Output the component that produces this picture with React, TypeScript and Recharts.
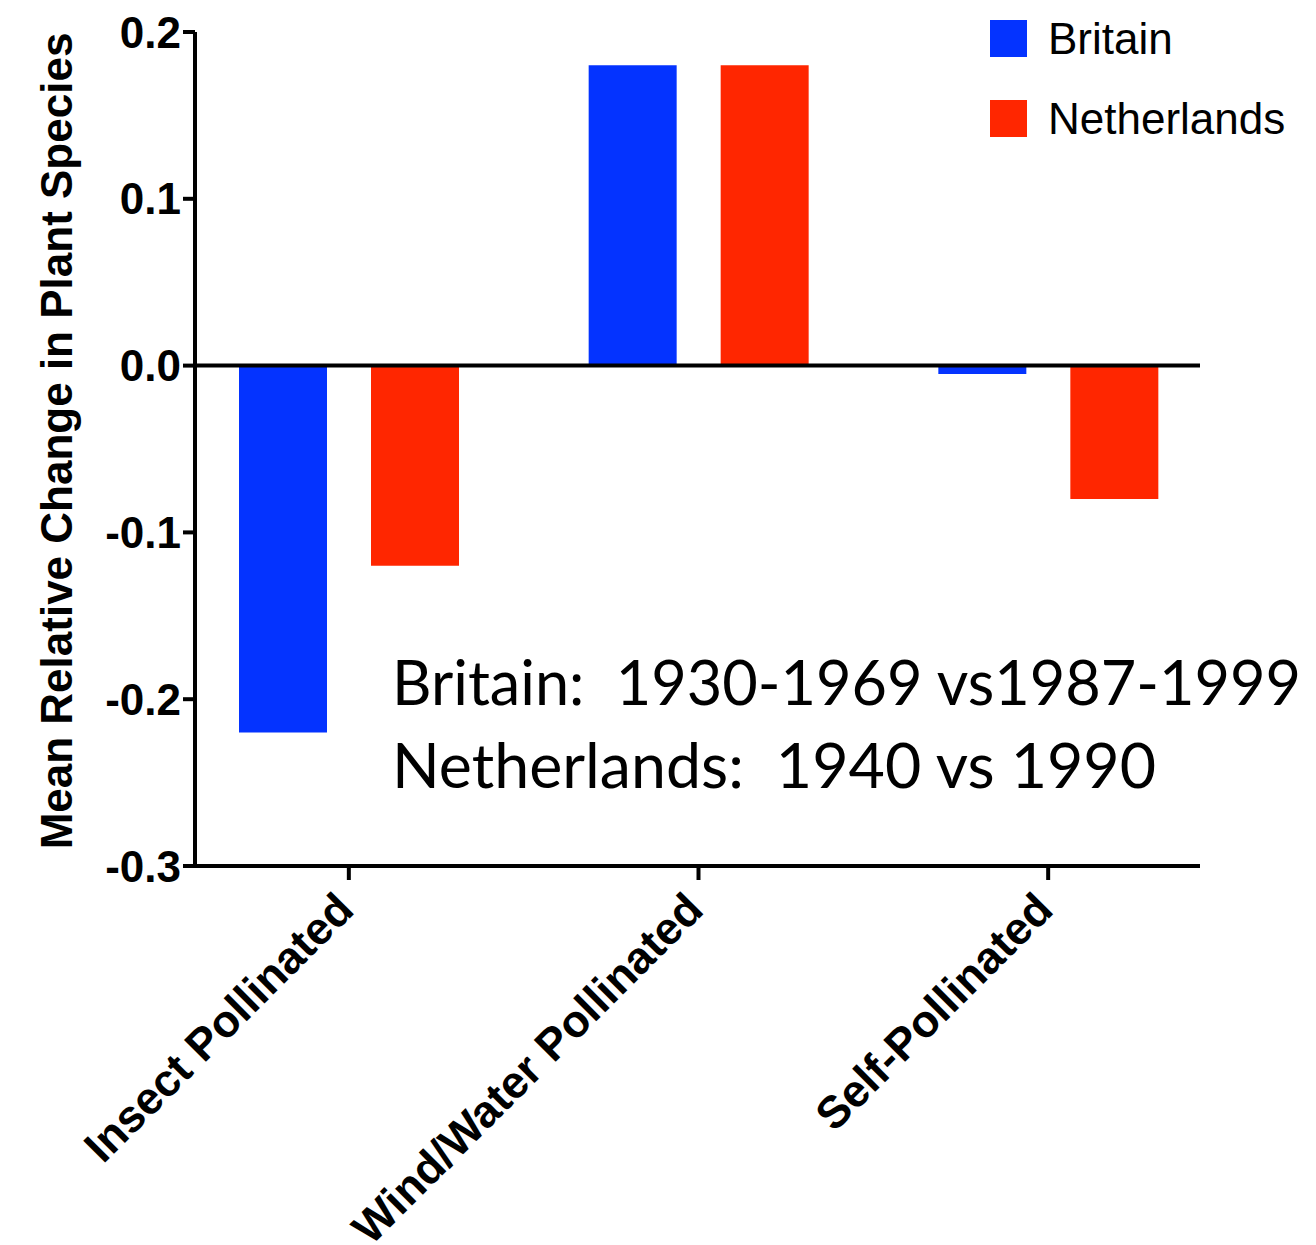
import React from 'react';
import { BarChart, Bar, XAxis, YAxis, ReferenceLine, Legend } from 'recharts';

const categories = ['Insect Pollinated', 'Wind/Water Pollinated', 'Self-Pollinated'];
const britainValues = [-0.22, 0.18, -0.005];
const netherlandsValues = [-0.12, 0.18, -0.08];
const yTicks = [-0.3, -0.2, -0.1, 0, 0.1, 0.2];
const seriesNames = ['Britain', 'Netherlands'];
const seriesColors = ['#0433ff', '#ff2600'];
const yLabel = 'Mean Relative Change in Plant Species';
const annotationLines = ['Britain:  1930-1969 vs1987-1999', 'Netherlands:  1940 vs 1990'];
const annotationWidths = [909, 764];

const data = categories.map((c, i) => ({
  category: c,
  [seriesNames[0]]: britainValues[i],
  [seriesNames[1]]: netherlandsValues[i],
}));

const FONT = '"Liberation Sans", Arial, Helvetica, sans-serif';

const XTick = (props: any) => {
  const { x, y, payload } = props;
  const ax = x + 7;
  const ay = y + 30;
  return (
    <text
      x={ax}
      y={ay}
      transform={`rotate(-45, ${ax}, ${ay})`}
      textAnchor="end"
      fontSize={45}
      fontWeight="bold"
      fontFamily={FONT}
      fill="#000"
    >
      {payload.value}
    </text>
  );
};

const YLabel = (props: any) => {
  const vb = props.viewBox || {};
  const cx = 72;
  const cy = vb.y + vb.height / 2 - 8;
  return (
    <text
      x={cx}
      y={cy}
      transform={`rotate(-90, ${cx}, ${cy})`}
      textAnchor="middle"
      fontSize={44}
      fontWeight="bold"
      fontFamily={FONT}
      fill="#000"
    >
      {yLabel}
    </text>
  );
};

const LegendContent = () => (
  <svg width={326} height={140} style={{ display: 'block', overflow: 'visible' }}>
    {seriesNames.map((name, i) => (
      <g key={name}>
        <rect x={0} y={i * 80} width={37} height={37} fill={seriesColors[i]} />
        <text x={58} y={i * 80 + 34} fontSize={44} fontFamily={FONT} fill="#000">
          {name}
        </text>
      </g>
    ))}
  </svg>
);

export default function App() {
  return (
    <div style={{ position: 'absolute', left: 0, top: 0, width: 1316, height: 1245, background: '#fff' }}>
      <BarChart
        width={1316}
        height={1245}
        data={data}
        margin={{ top: 32, right: 116, bottom: 9, left: 0 }}
        barSize={88}
        barGap={44}
      >
        <XAxis
          dataKey="category"
          height={370}
          interval={0}
          padding={{ left: -21, right: -23 }}
          tickSize={14}
          axisLine={{ stroke: '#000', strokeWidth: 4 }}
          tickLine={{ stroke: '#000', strokeWidth: 4 }}
          tick={<XTick />}
        />
        <YAxis
          width={195}
          domain={[-0.3, 0.2]}
          ticks={yTicks}
          interval={0}
          tickSize={12}
          tickFormatter={(v: number) => v.toFixed(1)}
          axisLine={{ stroke: '#000', strokeWidth: 4 }}
          tickLine={{ stroke: '#000', strokeWidth: 4 }}
          tick={{ fontSize: 44, fontWeight: 'bold', fill: '#000', fontFamily: FONT }}
          label={<YLabel />}
        />
        <Legend
          layout="vertical"
          align="center"
          verticalAlign="middle"
          content={<LegendContent />}
          wrapperStyle={{ position: 'absolute', left: 990, top: 20, width: 326, height: 140 }}
        />
        <Bar dataKey={seriesNames[0]} fill={seriesColors[0]} isAnimationActive={false} />
        <Bar dataKey={seriesNames[1]} fill={seriesColors[1]} isAnimationActive={false} />
        <ReferenceLine y={0} stroke="#000" strokeWidth={4} ifOverflow="extendDomain" />
      </BarChart>
      <svg
        width={1316}
        height={1245}
        style={{ position: 'absolute', left: 0, top: 0, pointerEvents: 'none' }}
      >
        {annotationLines.map((line, i) => (
          <text
            key={i}
            x={392}
            y={705 + i * 83}
            fontSize={61}
            fontFamily="Lato, 'Open Sans', sans-serif"
            fill="#000"
            textLength={annotationWidths[i]}
            lengthAdjust="spacingAndGlyphs"
            style={{ whiteSpace: 'pre' }}
          >
            {line}
          </text>
        ))}
      </svg>
    </div>
  );
}
